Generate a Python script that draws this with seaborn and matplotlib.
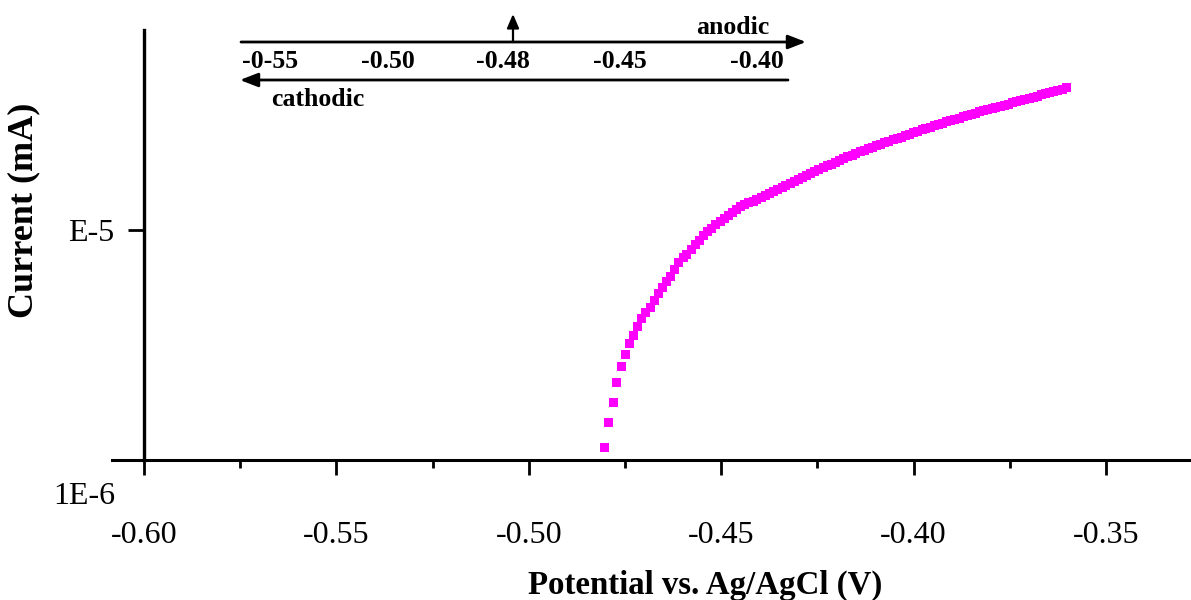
import matplotlib
matplotlib.use("Agg")
import matplotlib.pyplot as plt
import seaborn as sns
import pandas as pd
import numpy as np
from matplotlib.ticker import FixedLocator, NullLocator

# ---------------- data ----------------
potential_V = [
    -0.4803, -0.4792, -0.4781, -0.4771, -0.4760, -0.4749, -0.4739, -0.4728, -0.4717, -0.4706,
    -0.4696, -0.4685, -0.4674, -0.4664, -0.4653, -0.4642, -0.4631, -0.4621, -0.4610, -0.4599,
    -0.4589, -0.4578, -0.4567, -0.4556, -0.4546, -0.4535, -0.4524, -0.4514, -0.4503, -0.4492,
    -0.4482, -0.4471, -0.4460, -0.4449, -0.4439, -0.4428, -0.4417, -0.4407, -0.4396, -0.4385,
    -0.4374, -0.4364, -0.4353, -0.4342, -0.4332, -0.4321, -0.4310, -0.4300, -0.4289, -0.4278,
    -0.4267, -0.4257, -0.4246, -0.4235, -0.4225, -0.4214, -0.4203, -0.4192, -0.4182, -0.4171,
    -0.4160, -0.4150, -0.4139, -0.4128, -0.4117, -0.4107, -0.4096, -0.4085, -0.4075, -0.4064,
    -0.4053, -0.4043, -0.4032, -0.4021, -0.4010, -0.4000, -0.3989, -0.3978, -0.3968, -0.3957,
    -0.3946, -0.3935, -0.3925, -0.3914, -0.3903, -0.3893, -0.3882, -0.3871, -0.3860, -0.3850,
    -0.3839, -0.3828, -0.3818, -0.3807, -0.3796, -0.3786, -0.3775, -0.3764, -0.3753, -0.3743,
    -0.3732, -0.3721, -0.3711, -0.3700, -0.3689, -0.3678, -0.3668, -0.3657, -0.3646, -0.3636,
    -0.3625, -0.3614, -0.3603,
]
# current in units of 1e-6 mA
current_e6 = [
    1.13, 1.45, 1.78, 2.18, 2.56, 2.88, 3.20, 3.47, 3.79, 4.13,
    4.36, 4.61, 4.96, 5.31, 5.63, 5.98, 6.31, 6.75, 7.19, 7.56,
    7.83, 8.19, 8.61, 9.05, 9.46, 9.85, 10.20, 10.57, 10.89, 11.28,
    11.62, 11.98, 12.34, 12.68, 12.92, 13.13, 13.37, 13.64, 13.91, 14.17,
    14.45, 14.71, 14.99, 15.29, 15.60, 15.93, 16.27, 16.60, 16.93, 17.27,
    17.62, 18.00, 18.35, 18.68, 19.02, 19.36, 19.72, 20.07, 20.44, 20.81,
    21.19, 21.55, 21.90, 22.25, 22.59, 22.93, 23.26, 23.61, 23.94, 24.30,
    24.65, 25.02, 25.37, 25.76, 26.15, 26.52, 26.89, 27.24, 27.62, 28.04,
    28.41, 28.82, 29.19, 29.58, 29.96, 30.32, 30.69, 31.06, 31.44, 31.84,
    32.23, 32.62, 32.98, 33.38, 33.78, 34.19, 34.57, 34.92, 35.30, 35.70,
    36.05, 36.49, 36.94, 37.39, 37.84, 38.26, 38.68, 39.11, 39.58, 40.05,
    40.50, 40.99, 41.48,
]
x_major_ticks = [-0.60, -0.55, -0.50, -0.45, -0.40, -0.35]
x_major_labels = ["-0.60", "-0.55", "-0.50", "-0.45", "-0.40", "-0.35"]
x_minor_ticks = [-0.575, -0.525, -0.475, -0.425, -0.375]
y_ticks = [1e-5]
y_tick_labels = ["E-5"]
inset_labels = ["-0-55", "-0.50", "-0.48", "-0.45", "-0.40"]

df = pd.DataFrame({"Potential": potential_V,
                   "Current": [c * 1e-6 for c in current_e6]})

# ---------------- style ----------------
sns.set_theme(style="white")
plt.rcParams["font.family"] = ["Liberation Serif", "DejaVu Serif"]
plt.rcParams["mathtext.default"] = "regular"
for key in ("text.color", "axes.labelcolor", "xtick.color", "ytick.color",
            "axes.edgecolor"):
    plt.rcParams[key] = "black"

W, H = 1191, 600
fig = plt.figure(figsize=(W / 100, H / 100), dpi=100)
ax = fig.add_axes([112 / W, 140 / H, (W - 112) / W, 430 / H])

sns.scatterplot(data=df, x="Potential", y="Current", ax=ax, marker="s",
                s=42, color="#FF00FF", edgecolor="none", linewidth=0, zorder=3)

ax.set_yscale("log")
ax.set_xlim(-0.60832, -0.32791)
ax.set_ylim(1e-6, 10 ** (-4.13))

for s in ("top", "right"):
    ax.spines[s].set_visible(False)
ax.spines["left"].set_position(("data", -0.60))
ax.spines["left"].set_linewidth(2.4)
ax.spines["bottom"].set_linewidth(2.2)

ax.xaxis.set_major_locator(FixedLocator(x_major_ticks))
ax.set_xticklabels(x_major_labels)
ax.xaxis.set_minor_locator(FixedLocator(x_minor_ticks))
ax.yaxis.set_major_locator(FixedLocator(y_ticks))
ax.set_yticklabels(y_tick_labels)
ax.yaxis.set_minor_locator(NullLocator())

ax.tick_params(axis="x", which="major", direction="out", length=11, width=2,
               labelsize=23, pad=33, bottom=True)
ax.tick_params(axis="x", which="minor", direction="out", length=6, width=2,
               bottom=True)
ax.tick_params(axis="y", which="major", direction="out", length=11.5, width=2,
               labelsize=23, pad=10, left=True)

ax.set_xlabel("Potential vs. Ag/AgCl (V)", fontsize=23.7, fontweight="bold")
ax.xaxis.set_label_coords((705 - 112) / (W - 112), -(585 - 460) / 430)
ax.xaxis.label.set_va("center")
ax.set_ylabel("Current (mA)", fontsize=26, fontweight="bold")
ax.yaxis.set_label_coords((24 - 112) / (W - 112), (460 - 210) / 430)
ax.yaxis.label.set_va("center")

# "1E-6" label at the bottom of the log axis
ax.text((84 - 112) / (W - 112), -(496 - 460) / 430, "1E-6", transform=ax.transAxes,
        fontsize=23, ha="center", va="center")

# ---------------- anodic / cathodic scan annotation ----------------
def fx(px):
    return px / W

def fy(py):
    return 1 - py / H

tf = fig.transFigure
ann = dict(xycoords=tf, textcoords=tf)
ax.annotate("", xy=(fx(806), fy(42)), xytext=(fx(241), fy(42)),
            arrowprops=dict(arrowstyle="-|>,head_length=0.9,head_width=0.35",
                            color="black", lw=2, shrinkA=0, shrinkB=0), **ann)
ax.annotate("", xy=(fx(240), fy(80)), xytext=(fx(788), fy(80)),
            arrowprops=dict(arrowstyle="-|>,head_length=0.9,head_width=0.35",
                            color="black", lw=2, shrinkA=0, shrinkB=0), **ann)
ax.annotate("", xy=(fx(513), fy(14)), xytext=(fx(513), fy(42)),
            arrowprops=dict(arrowstyle="-|>,head_length=0.7,head_width=0.3",
                            color="black", lw=1.6, shrinkA=0, shrinkB=0), **ann)

fig.text(fx(733), fy(27), "anodic", fontsize=18.5, fontweight="bold",
         ha="center", va="center")
fig.text(fx(318), fy(100), "cathodic", fontsize=18.5, fontweight="bold",
         ha="center", va="center")
label_px = [270, 388, 503, 620, 757]
for lbl, px in zip(inset_labels, label_px):
    fig.text(fx(px), fy(62), lbl, fontsize=18.5, fontweight="bold",
             ha="center", va="center")

fig.savefig("out.png", dpi=100, facecolor="white")
